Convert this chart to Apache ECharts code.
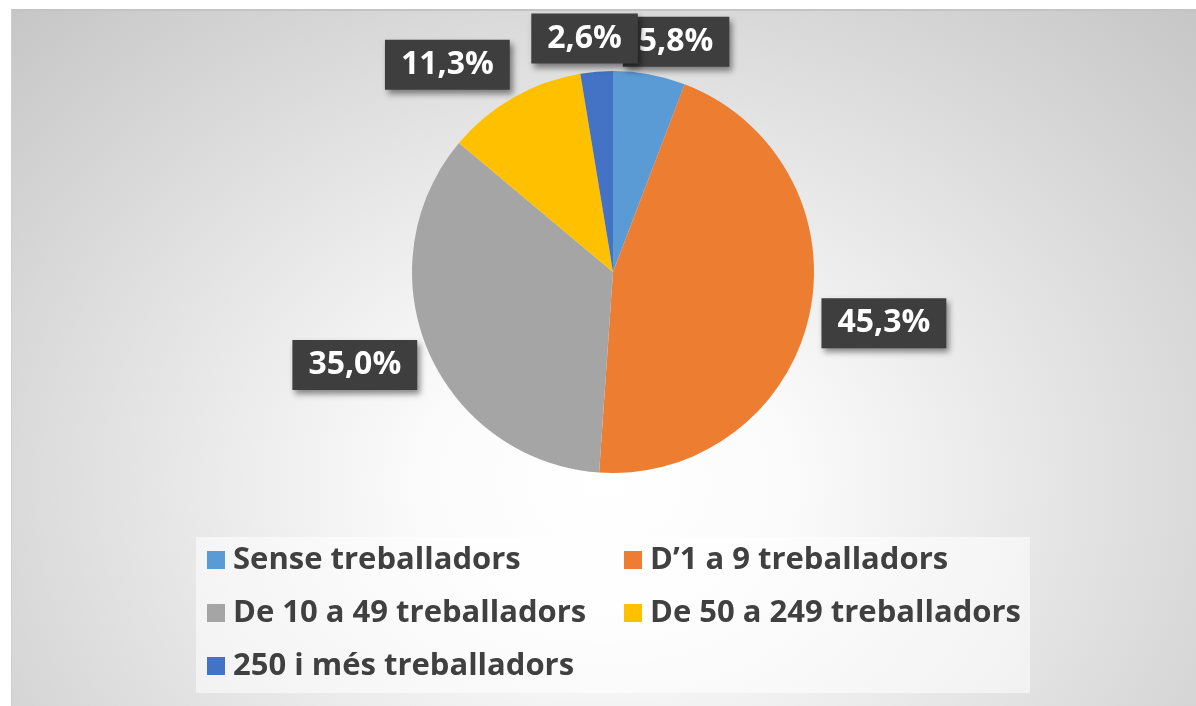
<!DOCTYPE html>
<html>
<head>
<meta charset="utf-8">
<script src="https://cdn.jsdelivr.net/npm/echarts@6/dist/echarts.min.js"></script>
<style>
html, body { margin: 0; padding: 0; background: #ffffff; }
#bg {
  position: absolute; left: 11px; top: 9px; right: 0; bottom: 0;
  border-top: 2px solid #c4c4c4; border-left: 1px solid #cfcfcf;
  background: radial-gradient(ellipse at 50% 68%, #ffffff 0%, #fbfbfb 22%, #c6c6c6 100%);
}
#chart { position: absolute; left: 0; top: 0; width: 1196px; height: 706px; }
</style>
</head>
<body>
<div id="bg"></div>
<div id="chart"></div>
<script>
// categories and shares (%)
var categories = ['Sense treballadors', 'D\u20191 a 9 treballadors', 'De 10 a 49 treballadors', 'De 50 a 249 treballadors', '250 i més treballadors']
var shares = [5.8, 45.3, 35.0, 11.3, 2.6]
var colors = ['#5B9BD5', '#ED7D31', '#A5A5A5', '#FFC000', '#4472C4']

var chart = echarts.init(document.getElementById('chart'))
var cx = 613
var cy = 272
var radius = 201
var labelFont = 'bold 32px "Open Sans"'
var padX = 16
var boxH = 50
// small tweaks so the boxes sit like the original ones
var nudge = [[19, 9], [2, -8], [-4, -15], [-36, 20], [-9, 4]]

var total = shares.reduce(function (a, b) { return a + b }, 0)
function midAngle (i) {
  var before = 0
  for (var k = 0; k < i; k++) before += shares[k]
  return (before + shares[i] / 2) / total * Math.PI * 2
}
function fmt (v) { return v.toFixed(1).replace('.', ',') + '%' }

var ctx = document.createElement('canvas').getContext('2d')
ctx.font = labelFont

// data labels: dark boxes just outside each slice
var labels = shares.map(function (v, i) {
  var text = fmt(v)
  var a = midAngle(i)
  var s = Math.sin(a)
  var c = Math.cos(a)
  var hw = (ctx.measureText(text).width + padX * 2) / 2
  var d = radius + Math.abs(hw * s) + Math.abs(boxH / 2 * c) + 8
  return {
    type: 'text',
    z: 100,
    x: cx + d * s + nudge[i][0],
    y: cy - d * c + nudge[i][1],
    style: {
      text: text,
      font: labelFont,
      fill: '#ffffff',
      align: 'center',
      verticalAlign: 'middle',
      lineHeight: 36,
      backgroundColor: '#3e3e3e',
      padding: [7, padX, 7, padX],
      shadowColor: 'rgba(0,0,0,0.45)',
      shadowBlur: 6,
      shadowOffsetX: 3,
      shadowOffsetY: 4
    }
  }
})

var option = {
  animation: false,
  legend: {
    left: 196,
    top: 537,
    width: 825,
    padding: [2, 0, 6, 11],
    backgroundColor: 'rgba(255,255,255,0.55)',
    icon: 'rect',
    itemWidth: 18,
    itemHeight: 18,
    itemGap: 11,
    data: categories,
    textStyle: {
      color: '#404040',
      fontFamily: 'Open Sans',
      fontWeight: 'bold',
      fontSize: 31,
      lineHeight: 42,
      width: 380,
      padding: [0, 0, 0, 3]
    }
  },
  graphic: labels,
  series: [
    {
      type: 'pie',
      center: [cx, cy],
      radius: radius,
      startAngle: 90,
      clockwise: true,
      data: categories.map(function (name, i) {
        return { name: name, value: shares[i], itemStyle: { color: colors[i] } }
      }),
      label: { show: false },
      labelLine: { show: false },
      emphasis: { disabled: true }
    }
  ]
}

chart.setOption(option)
</script>
</body>
</html>
